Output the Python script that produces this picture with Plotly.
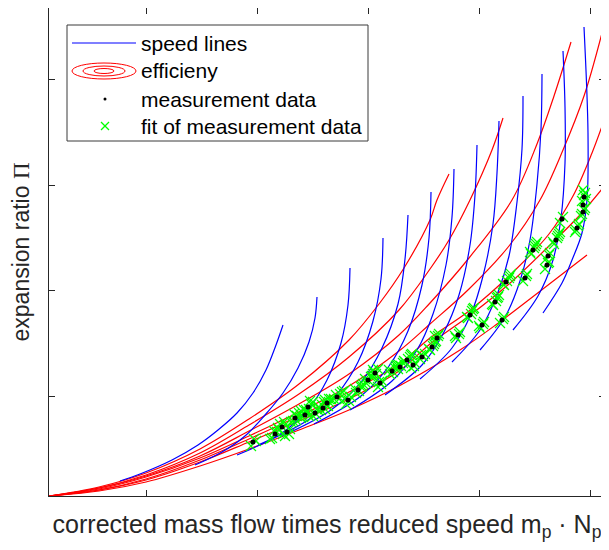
import plotly.graph_objects as go

# units: arbitrary (no tick labels in the original)
# efficiency contours (red), all start at origin
red_x = [
    [0, .50, .97, 1.51, 2.00, 2.50, 3.00, 3.30, 3.55, 3.81, 3.88, 4.00],
    [0, .50, .97, 1.51, 2.00, 2.50, 3.00, 3.50, 3.81, 4.00, 4.21, 4.43, 4.54],
    [0, .50, .97, 1.51, 2.00, 2.50, 3.00, 3.50, 3.81, 4.20, 4.63, 4.88, 5.05, 5.22],
    [0, .50, .97, 1.51, 2.00, 2.50, 3.00, 3.50, 3.81, 4.20, 4.60, 4.91, 5.14, 5.35, 5.53],
    [0, .50, .97, 1.51, 2.00, 2.50, 3.00, 3.50, 3.81, 4.20, 4.60, 5.00, 5.24, 5.43, 5.56, 5.75],
    [0, .50, .97, 1.51, 2.00, 2.50, 3.00, 3.50, 3.81, 4.20, 4.60, 5.00, 5.30, 5.53],
    [0, .50, .97, 1.51, 2.00, 2.50, 3.00, 3.50, 4.11, 4.48, 4.90, 5.38],
]
red_y = [
    [0, .09, .23, .47, .77, 1.12, 1.56, 1.92, 2.28, 2.76, 2.96, 3.22],
    [0, .08, .21, .43, .71, 1.02, 1.39, 1.86, 2.27, 2.56, 2.96, 3.46, 3.78],
    [0, .08, .20, .40, .65, .92, 1.22, 1.61, 1.93, 2.38, 2.96, 3.52, 4.00, 4.54],
    [0, .07, .19, .38, .60, .84, 1.10, 1.45, 1.72, 2.07, 2.50, 2.96, 3.46, 4.00, 4.63],
    [0, .06, .17, .36, .57, .80, 1.04, 1.32, 1.58, 1.85, 2.20, 2.62, 3.00, 3.43, 3.78, 4.30],
    [0, .06, .16, .34, .54, .75, .97, 1.25, 1.52, 1.80, 2.12, 2.50, 2.80, 3.07],
    [0, .05, .14, .30, .47, .66, .86, 1.10, 1.46, 1.72, 2.04, 2.41],
]

# speed lines (blue), from the top end downwards
blue_x = [
    [2.34, 2.27, 2.17, 2.04, 1.88, 1.69, 1.49, 1.23, .91, .71],
    [2.68, 2.66, 2.60, 2.49, 2.34, 2.16, 1.96, 1.73, 1.46],
    [3.01, 2.99, 2.92, 2.78, 2.60, 2.33, 1.88],
    [3.34, 3.32, 3.24, 3.09, 2.89, 2.59, 2.09],
    [3.59, 3.56, 3.49, 3.33, 3.13, 2.82, 2.31],
    [3.82, 3.80, 3.73, 3.59, 3.40, 3.12, 2.65],
    [4.05, 4.03, 3.97, 3.84, 3.68, 3.43, 3.01],
    [4.28, 4.26, 4.21, 4.10, 3.95, 3.73, 3.36],
    [4.50, 4.48, 4.44, 4.34, 4.22, 4.03, 3.71],
    [4.74, 4.73, 4.68, 4.60, 4.48, 4.31, 4.03],
    [4.93, 4.92, 4.88, 4.81, 4.71, 4.56, 4.31],
    [5.14, 5.16, 5.16, 5.12, 5.04, 4.89, 4.64],
    [5.35, 5.39, 5.38, 5.33, 5.23, 5.13, 4.94],
]
blue_y = [
    [1.71, 1.51, 1.26, 1.03, .83, .66, .51, .36, .22, .15],
    [1.99, 1.78, 1.54, 1.28, 1.03, .81, .60, .44, .31],
    [2.28, 1.91, 1.53, 1.16, .88, .63, .41],
    [2.58, 2.17, 1.75, 1.34, 1.03, .76, .51],
    [2.81, 2.37, 1.92, 1.48, 1.15, .86, .59],
    [3.04, 2.58, 2.11, 1.65, 1.30, 1.00, .72],
    [3.27, 2.79, 2.31, 1.82, 1.46, 1.15, .86],
    [3.51, 3.01, 2.51, 2.01, 1.64, 1.31, 1.01],
    [3.75, 3.23, 2.72, 2.20, 1.82, 1.48, 1.17],
    [4.00, 3.47, 2.94, 2.40, 2.01, 1.66, 1.34],
    [4.22, 3.67, 3.12, 2.56, 2.15, 1.79, 1.46],
    [4.45, 3.89, 3.33, 2.78, 2.36, 2.00, 1.66],
    [4.69, 3.63, 2.96, 2.63, 2.36, 2.13, 1.83],
]

meas_x = [2.04, 2.26, 2.38, 2.33, 2.46, 2.59, 2.56, 2.66, 2.74, 2.78, 2.88, 2.99, 3.09,
          3.19, 3.26, 3.31, 3.43, 3.51, 3.58, 3.64, 3.73, 3.83, 3.88, 4.09, 4.21, 4.33,
          4.46, 4.53, 4.57, 4.76, 4.84, 4.99, 4.98, 5.07, 5.13, 5.28, 5.34, 5.34, 5.35]
meas_y = [.54, .62, .64, .69, .78, .89, .81, .83, .88, .93, .99, .96, 1.06,
          1.16, 1.23, 1.13, 1.25, 1.29, 1.36, 1.31, 1.39, 1.49, 1.58, 1.61, 1.81, 1.71,
          1.94, 1.76, 2.14, 2.18, 2.46, 2.40, 2.31, 2.56, 2.77, 2.68, 2.84, 2.91, 2.99]

fit_x = [2.02, 2.05, 2.23, 2.28, 2.30, 2.36, 2.41, 2.31, 2.36, 2.44, 2.48, 2.50, 2.42,
         2.57, 2.62, 2.64, 2.54, 2.58, 2.69, 2.64, 2.72, 2.77, 2.80, 2.76, 2.82, 2.85,
         2.91, 2.93, 2.97, 3.02, 3.07, 3.12, 3.14, 3.17, 3.22, 3.24, 3.24, 3.29, 3.29,
         3.33, 3.41, 3.46, 3.48, 3.49, 3.54, 3.56, 3.61, 3.63, 3.62, 3.66, 3.71, 3.76,
         3.81, 3.85, 3.87, 3.90, 3.86, 4.07, 4.11, 4.19, 4.23, 4.25, 4.31, 4.35, 4.44,
         4.48, 4.50, 4.51, 4.55, 4.55, 4.60, 4.62, 4.74, 4.78, 4.82, 4.86, 4.88, 4.97,
         5.01, 4.96, 5.00, 5.05, 5.09, 5.11, 5.11, 5.26, 5.30, 5.32, 5.36, 5.33, 5.36, 5.34]
fit_y = [.50, .57, .58, .64, .66, .60, .67, .72, .71, .75, .80, .83, .74,
         .86, .92, .94, .79, .84, .86, .80, .86, .91, .94, .96, .97, .97,
         1.02, 1.04, .92, .99, 1.03, 1.09, 1.12, 1.13, 1.19, 1.22, 1.26, 1.27, 1.09,
         1.15, 1.22, 1.28, 1.31, 1.27, 1.33, 1.34, 1.39, 1.42, 1.28, 1.33, 1.37, 1.42,
         1.46, 1.52, 1.55, 1.62, 1.60, 1.58, 1.64, 1.78, 1.85, 1.88, 1.68, 1.74, 1.91,
         1.98, 2.01, 1.73, 1.79, 2.11, 2.18, 2.22, 2.15, 2.22, 2.42, 2.50, 2.54, 2.37,
         2.43, 2.27, 2.34, 2.52, 2.60, 2.64, 2.73, 2.64, 2.72, 2.80, 2.88, 2.95, 3.03, 3.06]
fit_x2 = [2.07, 2.21, 2.25, 2.40, 2.34, 2.29, 2.35, 2.47, 2.45, 2.52, 2.60, 2.55, 2.61, 2.52,
          2.60, 2.67, 2.70, 2.73, 2.76, 2.79, 2.80, 2.75, 2.87, 2.90, 2.95, 3.00, 2.96, 3.10,
          3.06, 3.13, 3.20, 3.16, 3.23, 3.27, 3.25, 3.32, 3.30, 3.44, 3.40, 3.47, 3.52, 3.50,
          3.59, 3.55, 3.62, 3.65, 3.74, 3.72, 3.84, 3.80, 3.86, 3.89, 4.10, 4.06, 4.22, 4.18,
          4.24, 4.34, 4.30, 4.47, 4.43, 4.49, 4.54, 4.58, 4.54, 4.61, 4.77, 4.85, 4.81, 4.87,
          5.00, 4.99, 5.08, 5.04, 5.10, 5.14, 5.29, 5.27, 5.35, 5.33, 5.35, 5.37]
fit_y2 = [.55, .57, .65, .62, .62, .68, .74, .76, .82, .85, .87, .86, .95, .78,
          .80, .82, .89, .91, .87, .90, .97, .94, 1.01, .97, 1.05, .95, .97, 1.05,
          1.07, 1.10, 1.15, 1.17, 1.20, 1.22, 1.24, 1.12, 1.14, 1.24, 1.26, 1.30, 1.30, 1.31,
          1.37, 1.35, 1.41, 1.30, 1.40, 1.41, 1.50, 1.47, 1.54, 1.60, 1.62, 1.60, 1.82, 1.79,
          1.87, 1.72, 1.70, 1.95, 1.92, 1.99, 1.77, 2.15, 2.12, 2.20, 2.20, 2.48, 2.44, 2.52,
          2.41, 2.33, 2.58, 2.54, 2.62, 2.79, 2.70, 2.66, 2.86, 2.82, 3.01, 2.97]

x_ticks = [0.97, 2.08, 3.19, 4.30, 5.41]
y_ticks = [1.00, 2.06, 3.11, 4.17]

fig = go.Figure()
for xs, ys in zip(red_x, red_y):
    fig.add_trace(go.Scatter(x=xs, y=ys, mode='lines', line=dict(color='#ff0000', width=1.2, shape='spline'),
                             showlegend=False, hoverinfo='skip'))
for xs, ys in zip(blue_x, blue_y):
    fig.add_trace(go.Scatter(x=xs, y=ys, mode='lines', line=dict(color='#0000ff', width=1.2, shape='spline'),
                             showlegend=False, hoverinfo='skip'))
fig.add_trace(go.Scatter(x=fit_x + fit_x2, y=fit_y + fit_y2, mode='markers', showlegend=False,
                         marker=dict(symbol='x-thin', size=10, line=dict(color='#00ff00', width=1.2))))
fig.add_trace(go.Scatter(x=meas_x, y=meas_y, mode='markers', showlegend=False,
                         marker=dict(color='black', size=5)))

# page has an 8px body margin: figure is 601x542, placed at (8, 8)
W, H, OFF = 601, 542, 8
# plot area in window pixels (for the hand-drawn legend)
L, R, T, B = 49, 605, 8, 496


def px(x):
    return (x - L) / (R - L)


def py(y):
    return (B - y) / (B - T)


shapes = [
    dict(type='rect', xref='paper', yref='paper', x0=px(67), x1=px(368), y0=py(141), y1=py(25),
         line=dict(color='#3a3a3a', width=1), fillcolor='white', layer='above'),
    dict(type='line', xref='paper', yref='paper', x0=px(72), x1=px(136), y0=py(43), y1=py(43),
         line=dict(color='#0000ff', width=1.2), layer='above'),
    dict(type='line', xref='paper', yref='paper', x0=1, x1=1, y0=0, y1=1,
         line=dict(color='#262626', width=2.5), layer='above'),
]
for rx, ry in [(32, 8), (21, 5), (10, 2.5)]:
    shapes.append(dict(type='circle', xref='paper', yref='paper', x0=px(104 - rx), x1=px(104 + rx),
                       y0=py(71 + ry), y1=py(71 - ry), line=dict(color='#ff0000', width=1), layer='above'))
shapes.append(dict(type='circle', xref='paper', yref='paper', x0=px(103.5), x1=px(106.5),
                   y0=py(100.5), y1=py(97.5), fillcolor='black', line=dict(color='black', width=0),
                   layer='above'))
for a, b in [((101, 122), (109, 130)), ((101, 130), (109, 122))]:
    shapes.append(dict(type='line', xref='paper', yref='paper', x0=px(a[0]), y0=py(a[1]), x1=px(b[0]), y1=py(b[1]),
                       line=dict(color='#00ff00', width=1.2), layer='above'))

labels = ['speed lines', 'efficieny', 'measurement data', 'fit of measurement data']
annotations = [dict(text=t, xref='paper', yref='paper', x=px(139), y=py(yy), xanchor='left', yanchor='middle',
                    showarrow=False, font=dict(size=21, color='black'))
               for t, yy in zip(labels, [43, 71, 99, 126])]

axis = dict(showline=True, mirror='ticks', linecolor='#262626', linewidth=1, ticks='inside', ticklen=6,
            tickcolor='#262626', showticklabels=False, showgrid=False, zeroline=False, automargin=False)

fig.update_layout(
    width=W, height=H,
    margin=dict(l=L - OFF, r=W + OFF - R, t=T - OFF, b=H + OFF - B),
    plot_bgcolor='white', paper_bgcolor='white',
    font=dict(family='Liberation Sans, Arial, sans-serif', color='#262626'),
    xaxis=dict(axis, range=[0, 5.56], tickvals=x_ticks,
               title=dict(text='corrected mass flow times reduced speed m<sub>p</sub> · N<sub>p</sub>',
                          font=dict(size=25), standoff=19)),
    yaxis=dict(axis, range=[0, 4.88], tickvals=y_ticks,
               title=dict(text="expansion ratio <span style=\"font-family:'Liberation Serif'\">Π</span>",
                          font=dict(size=23), standoff=11)),
    shapes=shapes, annotations=annotations,
)

fig.write_html("out.html")
